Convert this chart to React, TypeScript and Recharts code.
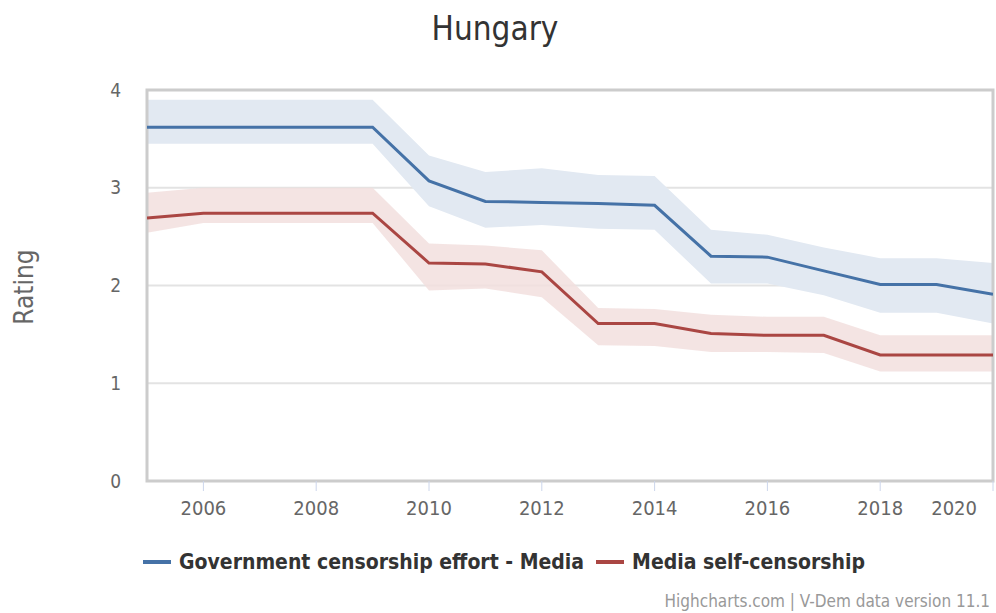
import React from "react";
import {
  ComposedChart,
  Area,
  Line,
  XAxis,
  YAxis,
  CartesianGrid,
  ReferenceArea,
} from "recharts";

if (typeof document !== "undefined") document.body.style.margin = "0";

const years = [2005, 2006, 2007, 2008, 2009, 2010, 2011, 2012, 2013, 2014, 2015, 2016, 2017, 2018, 2019, 2020];

// Government censorship effort - Media
const govValue = [3.62, 3.62, 3.62, 3.62, 3.62, 3.07, 2.86, 2.85, 2.84, 2.82, 2.30, 2.29, 2.15, 2.01, 2.01, 1.91];
const govHigh = [3.90, 3.90, 3.90, 3.90, 3.90, 3.33, 3.16, 3.20, 3.13, 3.12, 2.57, 2.52, 2.39, 2.28, 2.28, 2.23];
const govLow = [3.45, 3.45, 3.45, 3.45, 3.45, 2.81, 2.59, 2.62, 2.58, 2.57, 2.02, 2.02, 1.90, 1.72, 1.72, 1.61];

// Media self-censorship
const selfValue = [2.69, 2.74, 2.74, 2.74, 2.74, 2.23, 2.22, 2.14, 1.61, 1.61, 1.51, 1.49, 1.49, 1.29, 1.29, 1.29];
const selfHigh = [2.95, 3.0, 3.0, 3.0, 3.0, 2.43, 2.41, 2.36, 1.77, 1.76, 1.70, 1.68, 1.68, 1.49, 1.49, 1.49];
const selfLow = [2.54, 2.64, 2.64, 2.64, 2.64, 1.95, 1.97, 1.88, 1.39, 1.38, 1.32, 1.32, 1.31, 1.12, 1.12, 1.12];

const xTicks = [2006, 2008, 2010, 2012, 2014, 2016, 2018, 2020];
const yTicks = [0, 1, 2, 3, 4];

const seriesNames = ["Government censorship effort - Media", "Media self-censorship"];
const colors = ["#4572a7", "#aa4643"];
const bandColors = ["#e2e9f2", "#f2dfde"];

const data = years.map((year, i) => ({
  year,
  gov: govValue[i],
  govBand: [govLow[i], govHigh[i]],
  self: selfValue[i],
  selfBand: [selfLow[i], selfHigh[i]],
}));

const font = "'DejaVu Sans Condensed', 'DejaVu Sans', sans-serif";

// last label is pulled inside the chart, the way Highcharts does it
function YearTick(props: any) {
  const { x, y, payload } = props;
  const last = payload.value === xTicks[xTicks.length - 1];
  return (
    <text
      x={last ? x - 3 : x}
      y={y + 22}
      textAnchor={last ? "end" : "middle"}
      fill="#666"
      fontSize={20}
      fontFamily={font}
    >
      {payload.value}
    </text>
  );
}

export default function App() {
  return (
    <div style={{ position: "relative", width: 996, height: 613, background: "#fff", fontFamily: font }}>
      <div
        style={{
          position: "absolute",
          top: 9,
          left: 0,
          width: 990,
          textAlign: "center",
          fontSize: 33,
          color: "#333",
        }}
      >
        Hungary
      </div>
      <div
        style={{
          position: "absolute",
          left: 24,
          top: 287,
          transform: "translate(-50%, -50%) rotate(-90deg)",
          fontSize: 26,
          color: "#666",
        }}
      >
        Rating
      </div>

      <ComposedChart
        width={996}
        height={613}
        data={data}
        margin={{ top: 90, right: 3, bottom: 92, left: 87 }}
        style={{ position: "absolute", top: 0, left: 0 }}
      >
        <CartesianGrid vertical={false} stroke="#e3e3e3" strokeWidth={2} />
        <XAxis
          dataKey="year"
          type="number"
          domain={[2005, 2020]}
          ticks={xTicks}
          allowDataOverflow
          axisLine={false}
          tickLine={{ stroke: "#ccd6eb", strokeWidth: 1 }}
          tickSize={10}
          height={40}
          tick={<YearTick />}
        />
        <YAxis
          domain={[0, 4]}
          ticks={yTicks}
          width={60}
          axisLine={false}
          tickLine={false}
          tick={{ fill: "#666", fontSize: 19, fontFamily: font }}
          tickMargin={20}
        />
        <Area
          dataKey="govBand"
          stroke="none"
          fill={bandColors[0]}
          fillOpacity={1}
          isAnimationActive={false}
          type="linear"
        />
        <Area
          dataKey="selfBand"
          stroke="none"
          fill={bandColors[1]}
          fillOpacity={0.85}
          isAnimationActive={false}
          type="linear"
        />
        <Line
          dataKey="gov"
          stroke={colors[0]}
          strokeWidth={3}
          dot={false}
          type="linear"
          isAnimationActive={false}
        />
        <Line
          dataKey="self"
          stroke={colors[1]}
          strokeWidth={3}
          dot={false}
          type="linear"
          isAnimationActive={false}
        />
        <ReferenceArea
          x1={2005}
          x2={2020}
          y1={0}
          y2={4}
          fill="none"
          stroke="#cccccc"
          strokeWidth={3}
        />
      </ComposedChart>

      <div
        style={{
          position: "absolute",
          top: 550,
          left: 0,
          width: 1008,
          display: "flex",
          justifyContent: "center",
          gap: 12,
          fontSize: 21,
          fontWeight: "bold",
          color: "#333",
        }}
      >
        {seriesNames.map((name, i) => (
          <div key={name} style={{ display: "flex", alignItems: "center", gap: 8 }}>
            <span style={{ display: "inline-block", width: 28, height: 4, background: colors[i] }} />
            <span>{name}</span>
          </div>
        ))}
      </div>

      <div
        style={{
          position: "absolute",
          right: 6,
          top: 591,
          fontSize: 17,
          color: "#999",
        }}
      >
        Highcharts.com | V-Dem data version 11.1
      </div>
    </div>
  );
}
